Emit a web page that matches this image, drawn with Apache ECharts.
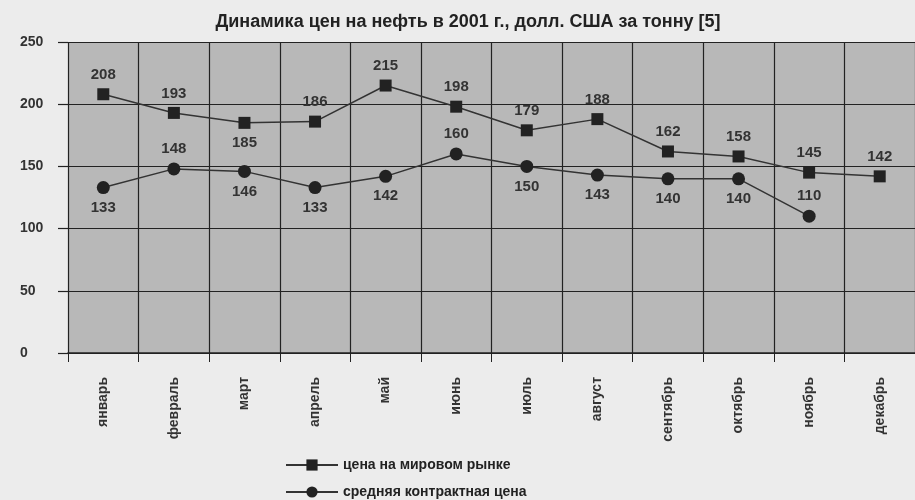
<!DOCTYPE html>
<html><head><meta charset="utf-8">
<script src="https://cdn.jsdelivr.net/npm/echarts@6/dist/echarts.min.js"></script>
<style>html,body{margin:0;padding:0;background:#ececec}#c{width:915px;height:500px}</style>
</head><body><div id="c"></div>
<script>
var months = ['январь','февраль','март','апрель','май','июнь','июль','август','сентябрь','октябрь','ноябрь','декабрь'];
var worldPrice = [208,193,185,186,215,198,179,188,162,158,145,142];
var contractPrice = [133,148,146,133,142,160,150,143,140,140,110,null];
var yTicks = [0,50,100,150,200,250];

var worldBelow = [2];
var contractAbove = [1,5,10];
var font = '"Liberation Sans", Arial, sans-serif';
var chart = echarts.init(document.getElementById('c'));
function lbl(pos){return {show:true,position:pos,distance:6,color:'#333',fontFamily:font,fontWeight:'bold',fontSize:15};}
var legendText = {fontFamily:font,fontWeight:'bold',fontSize:14,color:'#222'};
chart.setOption({
  backgroundColor:'#ececec',
  animation:false,
  title:{text:'Динамика цен на нефть в 2001 г., долл. США за тонну [5]',left:463,textAlign:'center',top:8,
    textStyle:{fontFamily:font,fontWeight:'bold',fontSize:18,color:'#222'}},
  grid:{left:68,top:42,width:857,height:311,show:true,backgroundColor:'#b8b8b8',borderWidth:0},
  legend:[
    {orient:'vertical',left:280,top:453,itemWidth:52,itemHeight:14,textStyle:legendText,data:['цена на мировом рынке']},
    {orient:'vertical',left:280,top:480,itemWidth:52,itemHeight:14,textStyle:legendText,data:['средняя контрактная цена']}
  ],
  xAxis:{type:'category',data:months,boundaryGap:true,
    axisLine:{lineStyle:{color:'#222',width:1.5}},
    axisTick:{show:true,length:9,lineStyle:{color:'#222'}},
    splitLine:{show:true,lineStyle:{color:'#222',width:1.2}},
    axisLabel:{rotate:90,interval:0,margin:24,color:'#333',fontFamily:font,fontWeight:'bold',fontSize:14}},
  yAxis:{type:'value',min:0,max:250,interval:50,
    axisLine:{show:false},
    axisTick:{show:true,length:10,lineStyle:{color:'#222',width:1.2}},
    splitLine:{show:true,lineStyle:{color:'#222',width:1.2}},
    axisLabel:{align:'left',margin:48,color:'#333',fontFamily:font,fontWeight:'bold',fontSize:14,
      formatter:function(v){return yTicks.indexOf(v)>=0?String(v):'';}}},
  series:[
    {name:'цена на мировом рынке',type:'line',symbol:'rect',symbolSize:12,
      itemStyle:{color:'#222'},lineStyle:{color:'#333',width:1.5},
      data:worldPrice.map(function(v,i){return {value:v,label:lbl(worldBelow.indexOf(i)>=0?'bottom':'top')};})},
    {name:'средняя контрактная цена',type:'line',symbol:'circle',symbolSize:13,
      itemStyle:{color:'#222'},lineStyle:{color:'#333',width:1.5},
      data:contractPrice.map(function(v,i){return {value:v,label:lbl(contractAbove.indexOf(i)>=0?'top':'bottom')};})}
  ]
});
</script></body></html>
